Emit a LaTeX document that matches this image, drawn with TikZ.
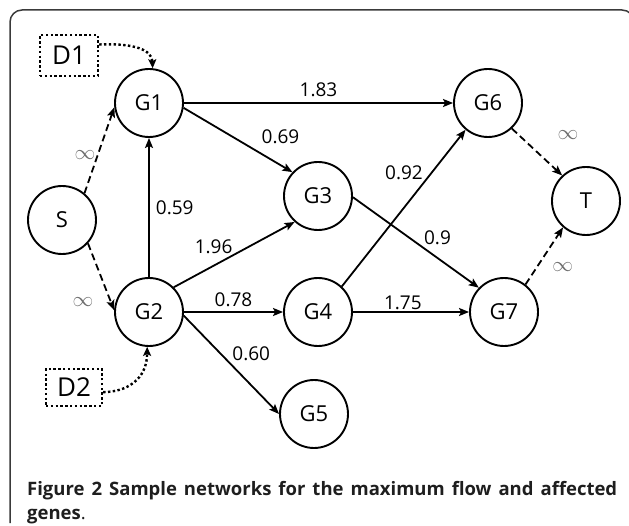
\documentclass[tikz,border=0pt]{standalone}
\usepackage{fontspec}
\setmainfont{Open Sans}
\usepackage{xcolor}
\usepackage{tikz}
\usetikzlibrary{arrows.meta}
\definecolor{framegray}{HTML}{3A3A3A}
\definecolor{infgray}{HTML}{6E6E6E}
\definecolor{capgray}{HTML}{1E1E1E}
\tikzset{GNnode/.style={shape=circle,draw,line width=1.9pt,minimum size=68pt,inner sep=0pt,font=\fontsize{22}{22}\selectfont},
	DRnode/.style={draw,line width=2.4pt,dash pattern=on 2.4pt off 2.4pt,inner sep=0pt,font=\fontsize{26}{26}\selectfont},
	wlabel/.style={font=\fontsize{19}{19}\selectfont,inner sep=1pt},
	inflabel/.style={text=infgray,font=\fontsize{22}{22}\selectfont,inner sep=0pt},
	flow/.style={line width=1.8pt,-{Stealth[length=10pt,width=8pt,inset=2pt]}},
	stflow/.style={dash pattern=on 7pt off 4pt},
	drflow/.style={line width=2.4pt,dash pattern=on 2.4pt off 2.4pt,-{Stealth[length=9pt,width=8pt,inset=2pt]}}}

\begin{document}
\begin{tikzpicture}[x=1pt,y=-1pt]
	\useasboundingbox (0,0) rectangle (629,526);
	\draw[framegray,line width=1.5pt,rounded corners=12pt] (10,523) -- (10,10) -- (634,10) -- (634,80);
	%
	\node[GNnode] (S) at (62,220) {S};
	\node[GNnode] (G1) at (149,103) {G1};
	\node[GNnode] (G2) at (149,312) {G2};
	\node[GNnode] (G3) at (318,196) {G3};
	\node[GNnode] (G4) at (318,312) {G4};
	\node[GNnode] (G5) at (314,414) {G5};
	\node[GNnode] (G6) at (488,103) {G6};
	\node[GNnode] (G7) at (504,312) {G7};
	\node[GNnode] (T) at (586,201) {T};
	\node[DRnode,minimum width=58pt,minimum height=41pt] (D1) at (69,55.5) {D1};
	\node[DRnode,minimum width=56pt,minimum height=37pt] (D2) at (74,387.5) {D2};
	%
	\draw [flow,stflow] (S.50) -- node[inflabel,pos=0.45,xshift=-13pt]{$\infty$} (G1.187);
	\draw [flow,stflow] (S.-42) -- node[inflabel,pos=0.88,xshift=-28pt]{$\infty$} (G2.177);
	\draw [flow] (G2) -- node[wlabel,pos=0.5,right=5pt]{0.59} (G1);
	\draw [flow] (G1) -- node[wlabel,pos=0.5,above=4pt]{1.83} (G6);
	\draw [flow] (G1.-8) -- node[wlabel,pos=0.7,anchor=south west,yshift=7pt]{0.69} (G3.137);
	\draw [flow] (G2.45) -- node[wlabel,pos=0.33,above=10pt]{1.96} (G3.-132);
	\draw [flow] (G2) -- node[wlabel,pos=0.5,above=3pt]{0.78} (G4);
	\draw [flow] (G2.-6) -- node[wlabel,pos=0.48,anchor=south west,xshift=1pt]{0.60} (G5.west);
	\draw [flow] (G4.47) -- node[wlabel,pos=0.67,anchor=south east]{0.92} (G6.-130);
	\draw [flow] (G3.-2) -- node[wlabel,pos=0.55,anchor=south west]{0.9} (G7.136);
	\draw [flow] (G4) -- node[wlabel,pos=0.43,above=0pt]{1.75} (G7);
	\draw [flow,stflow] (G6.-47) -- node[inflabel,pos=0.5,xshift=31pt,yshift=17pt]{$\infty$} (T.133);
	\draw [flow,stflow] (G7.52) -- node[inflabel,pos=0.3,xshift=26pt]{$\infty$} (T.-131);
	%
	\draw [drflow] (D1.20) .. controls (135,43) and (152,50) .. (G1.84);
	\draw [drflow] (D2.-9) .. controls (126,392) and (147,380) .. (G2.-93);
	%
	\node[anchor=north west,inner sep=0pt,text width=590pt,align=justify,text=capgray,
		font=\fontsize{18.5}{24}\selectfont] (caption) at (27,481)
		{\textbf{Figure 2 Sample networks for the maximum flow and affected\linebreak genes}.};
\end{tikzpicture}
\end{document}
